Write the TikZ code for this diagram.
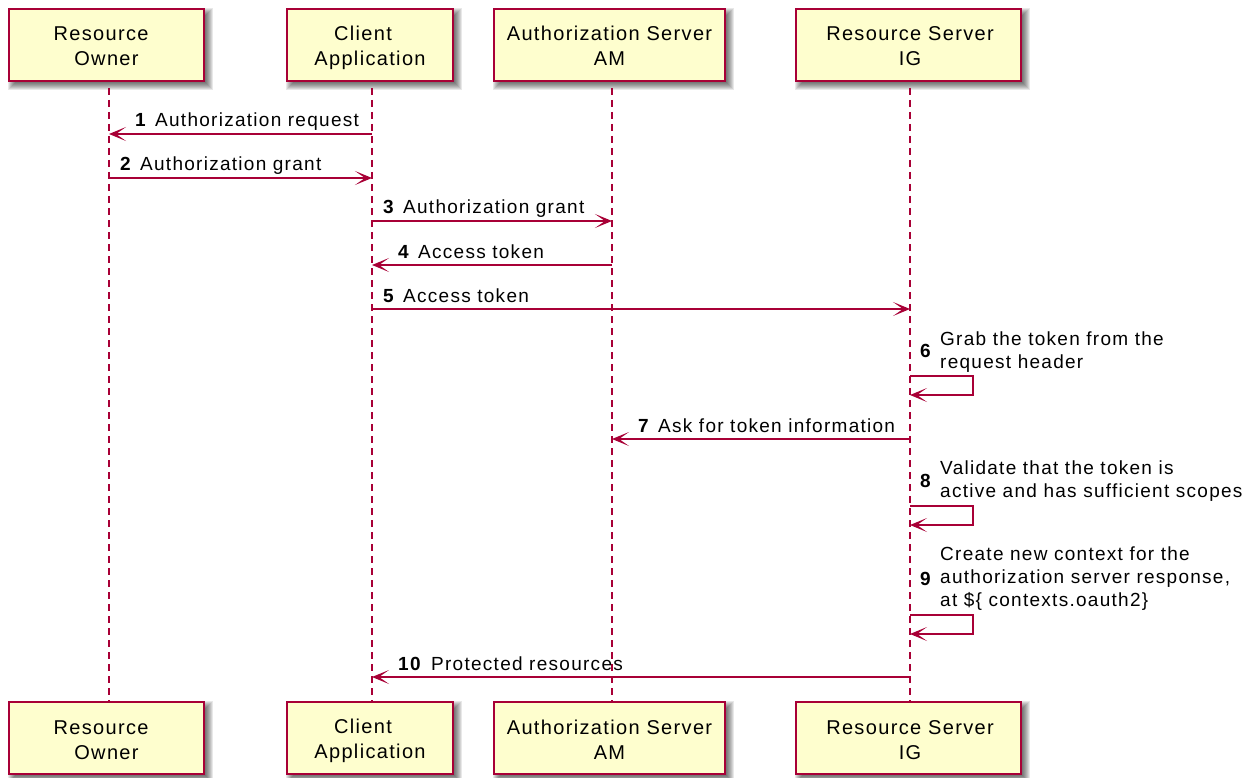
\documentclass[tikz,border=0pt]{standalone}
\usepackage{fontspec}
\setmainfont[LetterSpace=6.7]{Liberation Sans}
\usetikzlibrary{arrows.meta,calc,backgrounds}
\definecolor{umlred}{HTML}{A80036}
\definecolor{umlfill}{HTML}{FEFECE}
\newcommand{\topline}{\rule{0pt}{21pt}}
\newcommand{\botline}{\rule[-4pt]{0pt}{4pt}}
\tikzset{
  actorbox/.style={draw=umlred,fill=umlfill,line width=2.4pt,inner sep=0pt,align=center,font=\fontsize{20}{25}\selectfont,text=black},
  lifeline/.style={draw=umlred,line width=1.2pt,dash pattern=on 7pt off 5pt,dash phase=7pt},
  msg/.style={draw=umlred,line width=1.4pt,-{Stealth[length=17pt,width=14pt,inset=10pt]}},
  msglabel/.style={inner sep=0pt,anchor=base west,align=left,font=\fontsize{19}{23}\selectfont,text=black},
  numlabel/.style={inner sep=0pt,anchor=base west,font=\fontsize{19}{23}\selectfont\bfseries,text=black},
}
\newcommand{\actorpair}[5]{%
  \node[actorbox,minimum width=#3pt,minimum height=72pt] (#1t) at (#2,45) {#5};
  \node[actorbox,minimum width=#3pt,minimum height=72pt] (#1b) at (#2,738) {#5};
  \coordinate (#1top) at (#4,83);
  \coordinate (#1bot) at (#4,702);
}
\begin{document}
\begin{tikzpicture}[x=1pt,y=-1pt]
\useasboundingbox (0,0) rectangle (1260,778);
\actorpair{ro}{106.5}{195}{109}{\topline\hspace*{-11pt}Resource\\Owner\botline}
\actorpair{ca}{370}{166}{372}{\topline\hspace*{-14pt}Client\\Application\botline}
\actorpair{as}{609.5}{231}{612}{\topline Authorization Server\\AM\botline}
\actorpair{rs}{908.5}{225}{910}{\topline\hspace*{3pt}Resource Server\\\hspace*{3pt}IG\botline}
\begin{scope}[on background layer]
\foreach \b in {rot,rob,cat,cab,ast,asb,rst,rsb}{
  \foreach \r in {-4,-3,-2,-1,0,1,2,3,4}{
    \fill[black,opacity=0.09]
      ($(\b.north west)+(4-\r,4-\r)$) rectangle ($(\b.south east)+(4+\r,4+\r)$);
  }
}
\end{scope}
\foreach \a in {ro,ca,as,rs}{\draw[lifeline] (\a top) -- (\a bot);}
\foreach \a/\n/\y in {ro/1/134,ca/1/134,ro/2/178,ca/2/178,ca/3/221,as/3/221,ca/4/265,as/4/265,ca/5/309,rs/5/309,as/7/439,rs/7/439,ca/10/677,rs/10/677}{
  \coordinate (\a m\n) at (\a top |- 0,\y);
}
\foreach \n/\ya/\yb in {6/376/395,8/506/525,9/615/634}{
  \coordinate (s\n a) at (rstop |- 0,\ya);
  \coordinate (s\n b) at (973,\ya);
  \coordinate (s\n c) at (973,\yb);
  \coordinate (s\n d) at (rstop |- 0,\yb);
  \draw[msg] (s\n a) -- (s\n b) -- (s\n c) -- (s\n d);
}
\draw[msg] (cam1) -- (rom1);
\draw[msg] (rom2) -- (cam2);
\draw[msg] (cam3) -- (asm3);
\draw[msg] (asm4) -- (cam4);
\draw[msg] (cam5) -- (rsm5);
\draw[msg] (rsm7) -- (asm7);
\draw[msg] (rsm10) -- (cam10);
\node[numlabel] (n1) at (135,127) {1};
\node[msglabel] (t1) at (155,127) {Authorization request};
\node[numlabel] (n2) at (120,171) {2};
\node[msglabel] (t2) at (140,171) {Authorization grant};
\node[numlabel] (n3) at (383,214) {3};
\node[msglabel] (t3) at (403,214) {Authorization grant};
\node[numlabel] (n4) at (398,258) {4};
\node[msglabel] (t4) at (418,258) {Access token};
\node[numlabel] (n5) at (383,302) {5};
\node[msglabel] (t5) at (403,302) {Access token};
\node[numlabel] (n6) at (920,357) {6};
\node[msglabel,anchor=north west] (t6) at (940,332) {Grab the token from the\\request header};
\node[numlabel] (n7) at (638,432) {7};
\node[msglabel] (t7) at (658,432) {Ask for token information};
\node[numlabel] (n8) at (920,487) {8};
\node[msglabel,anchor=north west] (t8) at (940,461) {Validate that the token is\\active and has sufficient scopes};
\node[numlabel] (n9) at (920,585) {9};
\node[msglabel,anchor=north west] (t9) at (940,547) {Create new context for the\\authorization server response,\\at \$\{ contexts.oauth2\}};
\node[numlabel] (n10) at (398,670) {10};
\node[msglabel] (t10) at (431,670) {Protected resources};
\end{tikzpicture}
\end{document}
